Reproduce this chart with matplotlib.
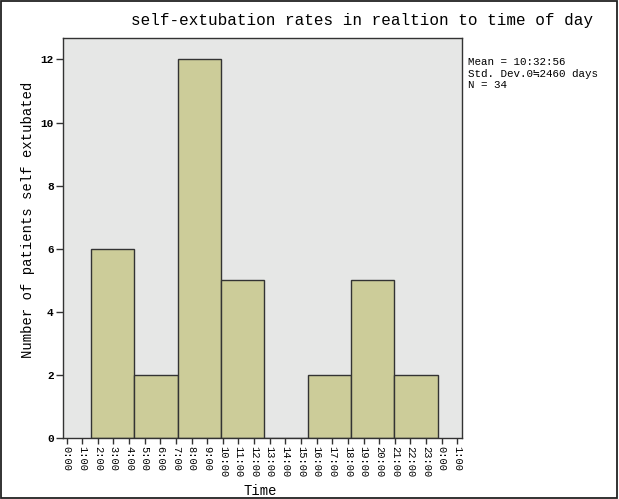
"""SPSS-style histogram: self-extubation rates by time of day."""

import matplotlib

matplotlib.use("Agg")

import matplotlib.pyplot as plt
from matplotlib.patches import Rectangle

# histogram bins (hours of the day) and counts
bin_start = 1.55
bin_width = 2.775
counts = [6, 2, 12, 5, 0, 2, 5, 2]

tick_hours = list(range(26))
tick_labels = [f"{h % 24}:00" for h in tick_hours]
y_ticks = [0, 2, 4, 6, 8, 10, 12]

title = "self-extubation rates in realtion to time of day"
x_label = "Time"
y_label = "Number of patients self extubated"
stats_lines = ["Mean = 10:32:56", "Std. Dev.0\u22522460 days", "N = 34"]

MONO = ["Liberation Mono", "DejaVu Sans Mono", "DejaVu Sans"]
plt.rcParams["font.family"] = MONO

fig = plt.figure(figsize=(6.19, 4.99), dpi=100)
ax = fig.add_axes([0.1023, 0.1228, 0.6436, 0.8016])
ax.set_facecolor("#e6e7e6")

lefts = [bin_start + i * bin_width for i in range(len(counts))]
ax.bar(lefts, counts, width=bin_width, align="edge",
       color="#cccc99", edgecolor="#333333", linewidth=1.0)

ax.set_xlim(-0.205, 25.28)
ax.set_ylim(0, 12.69)
ax.set_xticks(tick_hours)
ax.set_xticklabels(tick_labels, rotation=-90, fontsize=7.5)
ax.set_yticks(y_ticks)
ax.set_yticklabels([str(v) for v in y_ticks], fontsize=8, fontweight="bold")
ax.tick_params(axis="x", length=4, width=1, pad=2, color="#333333")
ax.tick_params(axis="y", length=5, width=1, pad=2, color="#333333")
for spine in ax.spines.values():
    spine.set_color("#333333")
    spine.set_linewidth(1.0)

fig.text(0.585, 0.958, title, ha="center", va="center", fontsize=11.5)
fig.text(0.046, 0.56, y_label, ha="center", va="center", rotation=90,
         fontsize=10)
fig.text(0.42, 0.016, x_label, ha="center", va="center", fontsize=10)
fig.text(0.756, 0.885, "\n".join(stats_lines), ha="left", va="top",
         fontsize=7.8, linespacing=1.15)

# outer frame around the whole picture
fig.patches.append(Rectangle((0.002, 0.003), 0.994, 0.994,
                             transform=fig.transFigure, fill=False,
                             edgecolor="#222222", linewidth=1.3))

fig.savefig("out.png", dpi=100)
plt.close(fig)
